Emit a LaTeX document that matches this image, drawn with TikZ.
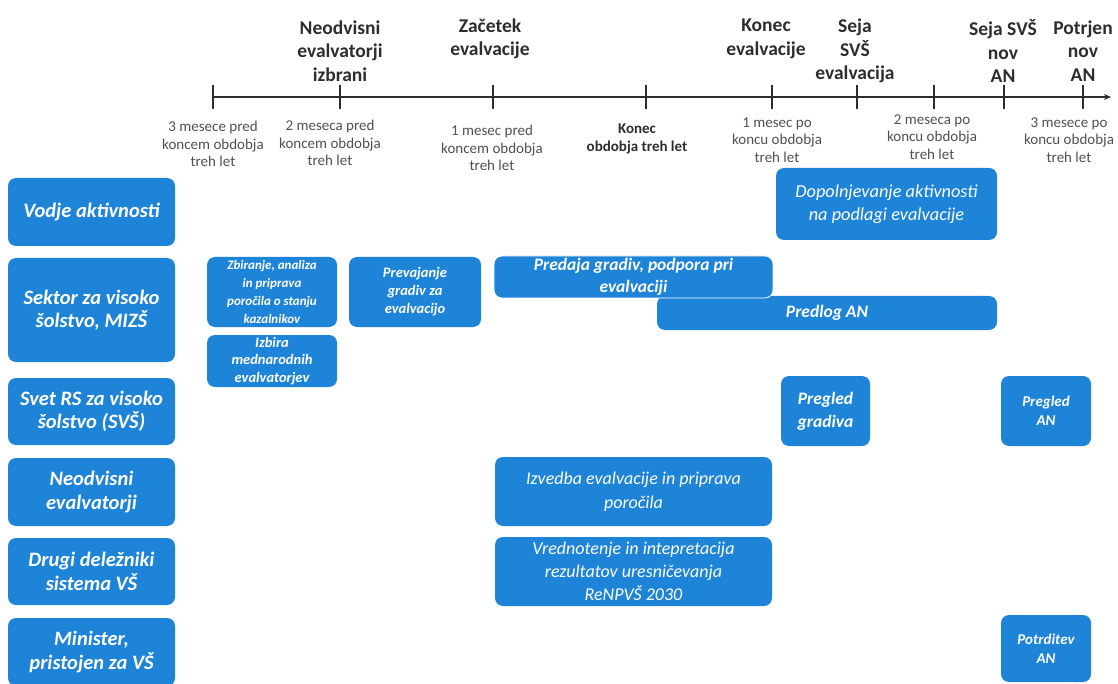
\documentclass[tikz,border=0pt]{standalone}
\usepackage{fontspec}
\setmainfont{Carlito}
\usetikzlibrary{arrows.meta}
\definecolor{boxblue}{RGB}{30,132,216}
\definecolor{tlgray}{RGB}{45,45,45}
\definecolor{labgray}{RGB}{80,80,80}
\begin{document}
\begin{tikzpicture}[x=1pt,y=-1pt,
  bx/.style={fill=boxblue, rounded corners=8pt, text=white, align=center, inner sep=0pt, draw=none},
  lbox/.style={bx, minimum width=167pt, font=\bfseries\itshape\fontsize{20.5}{23.5}\selectfont},
  bigbox/.style={bx, font=\bfseries\itshape\fontsize{17.5}{21.5}\selectfont},
  plainbox/.style={bx, font=\itshape\fontsize{18.3}{23.5}\selectfont},
  smallbox/.style={bx, font=\bfseries\itshape\fontsize{13}{18}\selectfont},
  tinybox/.style={bx, font=\bfseries\itshape\fontsize{15}{19}\selectfont},
  toplab/.style={text=tlgray, align=center, inner sep=0pt, font=\bfseries\fontsize{19.5}{23.5}\selectfont},
  sublab/.style={text=labgray, align=center, inner sep=0pt, font=\fontsize{15}{17.5}\selectfont},
  tick/.style={draw=tlgray, line width=2pt},
  axis/.style={draw=tlgray, line width=2pt, -{Stealth[length=7pt,width=6pt]}}
]
\useasboundingbox (0,0) rectangle (1118,684);

% timeline
\coordinate (t1) at (213,97);
\coordinate (t2) at (340,97);
\coordinate (t3) at (493,97);
\coordinate (t4) at (646,97);
\coordinate (t5) at (772,97);
\coordinate (t6) at (857,97);
\coordinate (t7) at (934,97);
\coordinate (t8) at (1004,97);
\coordinate (t9) at (1083,97);
\coordinate (tend) at (1111,97);
\draw[axis] (t1) -- (tend);
\foreach \t in {t1,t2,t3,t4,t5,t6,t7,t8,t9}{
  \draw[tick] ([yshift=-12pt]\t) -- ([yshift=12pt]\t);
}

% top labels
\node[toplab] (h2) at (340,51) {Neodvisni\\evalvatorji\\izbrani};
\node[toplab] (h3) at (490,39) {Začetek\\evalvacije};
\node[toplab] (h5) at (766,39) {Konec\\evalvacije};
\node[toplab] (h6) at (855,51) {Seja\\SVŠ\\evalvacija};
\node[toplab] (h8) at (1003,51) {Seja SVŠ\\nov\\AN};
\node[toplab] (h9) at (1083,51) {Potrjen\\nov\\AN};

% bottom labels
\node[sublab] (s1) at (213,144) {3 mesece pred\\koncem obdobja\\treh let};
\node[sublab] (s2) at (330,143) {2 meseca pred\\koncem obdobja\\treh let};
\node[sublab] (s3) at (492,148) {1 mesec pred\\koncem obdobja\\treh let};
\node[sublab, font=\bfseries\fontsize{15}{17.5}\selectfont, text=tlgray] (s4) at (637,139) {Konec\\obdobja treh let};
\node[sublab] (s5) at (777,140) {1 mesec po\\koncu obdobja\\treh let};
\node[sublab] (s7) at (932,137) {2 meseca po\\koncu obdobja\\treh let};
\node[sublab] (s9) at (1069,140) {3 mesece po\\koncu obdobja\\treh let};

% left column
\node[lbox, minimum height=68pt] (l1) at (91.5,212) {Vodje aktivnosti};
\node[lbox, minimum height=104pt] (l2) at (91.5,310) {Sektor za visoko\\šolstvo, MIZŠ};
\node[lbox, minimum height=67pt] (l3) at (91.5,411.5) {Svet RS za visoko\\šolstvo (SVŠ)};
\node[lbox, minimum height=68pt] (l4) at (91.5,492) {Neodvisni\\evalvatorji};
\node[lbox, minimum height=67pt] (l5) at (91.5,571.5) {Drugi deležniki\\sistema VŠ};
\node[lbox, minimum height=68pt] (l6) at (91.5,652) {Minister,\\pristojen za VŠ};

% activity boxes
\node[plainbox, minimum width=221pt, minimum height=72pt] (dop) at (886.5,204) {Dopolnjevanje aktivnosti\\na podlagi evalvacije};
\node[smallbox, minimum width=130pt, minimum height=70pt] (zbi) at (272,292) {Zbiranje, analiza\\in priprava\\poročila o stanju\\kazalnikov};
\node[smallbox, minimum width=130pt, minimum height=52pt, font=\bfseries\itshape\fontsize{14.5}{17.5}\selectfont] (izb) at (272,361) {Izbira\\mednarodnih\\evalvatorjev};
\node[smallbox, minimum width=132pt, minimum height=70pt, font=\bfseries\itshape\fontsize{14.5}{18}\selectfont] (pre) at (415,292) {Prevajanje\\gradiv za\\evalvacijo};
\node[bigbox, minimum width=340pt, minimum height=34pt] (pdl) at (827,313) {Predlog AN};
\node[bigbox, minimum width=279pt, minimum height=42pt, draw=white, line width=0.8pt] (pda) at (633.5,277) {Predaja gradiv, podpora pri\\evalvaciji};
\node[bigbox, minimum width=89pt, minimum height=70pt, font=\bfseries\itshape\fontsize{17.5}{23}\selectfont] (pgr) at (825.5,411) {Pregled\\gradiva};
\node[tinybox, minimum width=90pt, minimum height=70pt] (pan) at (1046,411) {Pregled\\AN};
\node[plainbox, minimum width=277pt, minimum height=69pt, font=\itshape\fontsize{18}{23.5}\selectfont] (izv) at (633.5,491.5) {Izvedba evalvacije in priprava\\poročila};
\node[plainbox, minimum width=277pt, minimum height=69pt, font=\itshape\fontsize{18}{23}\selectfont] (vre) at (633.5,571.5) {Vrednotenje in intepretacija\\rezultatov uresničevanja\\ReNPVŠ 2030};
\node[tinybox, minimum width=90pt, minimum height=67pt] (pot) at (1046,648.5) {Potrditev\\AN};
\end{tikzpicture}
\end{document}
